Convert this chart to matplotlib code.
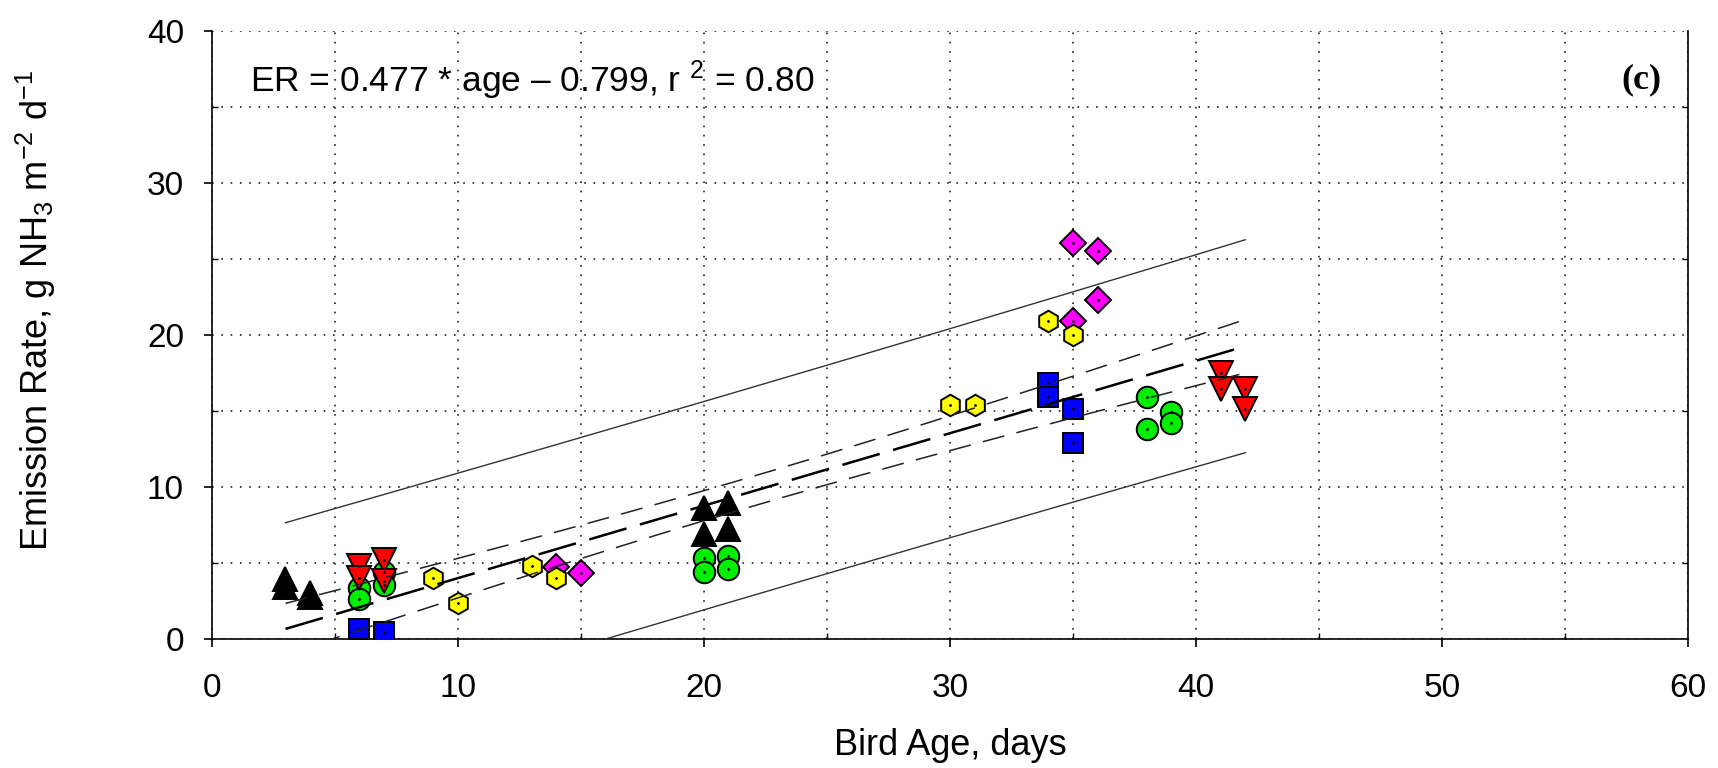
import numpy as np
import matplotlib
matplotlib.use("Agg")
import matplotlib.pyplot as plt
from matplotlib.ticker import MultipleLocator

# ---------------- data ----------------
black_age = [3, 3, 4, 4, 20, 20, 21, 21]
black_er = [3.9, 3.4, 3.0, 2.7, 8.6, 6.85, 8.9, 7.2]

green_age = [6, 6, 7, 7, 20, 20, 21, 21, 38, 38, 39, 39]
green_er = [3.3, 2.6, 4.4, 3.5, 5.3, 4.4, 5.4, 4.55, 15.9, 13.8, 14.9, 14.2]

red_age = [6, 6, 7, 7, 41, 41, 42, 42]
red_er = [4.8, 4.0, 5.2, 3.8, 17.5, 16.4, 16.4, 15.1]

blue_age = [6, 7, 34, 34, 35, 35]
blue_er = [0.6, 0.4, 16.8, 15.9, 15.1, 12.9]

magenta_age = [14, 15, 35, 35, 36, 36]
magenta_er = [4.7, 4.3, 26.0, 20.9, 25.5, 22.3]

yellow_age = [9, 10, 13, 14, 30, 31, 34, 35]
yellow_er = [4.0, 2.35, 4.8, 4.0, 15.4, 15.4, 20.9, 20.0]

slope = 0.477
intercept = -0.799
r2_text = "0.80"
t_crit = 2.013  # 95 %, df = n - 2

x_ticks = [0, 10, 20, 30, 40, 50, 60]
y_ticks = [0, 10, 20, 30, 40]

# ---------------- style ----------------
plt.rcParams["font.family"] = ["Liberation Sans", "DejaVu Sans"]
plt.rcParams["mathtext.fontset"] = "custom"
plt.rcParams["mathtext.rm"] = "Liberation Sans"
plt.rcParams["mathtext.it"] = "Liberation Sans"
plt.rcParams["mathtext.default"] = "regular"
plt.rcParams["lines.scale_dashes"] = False

fig = plt.figure(figsize=(17.18, 7.68), dpi=100)
ax = fig.add_axes([0.1232, 0.1686, 0.9827 - 0.1232, 0.96 - 0.1686])

groups = [
    (magenta_age, magenta_er, "D", "#FF00FF", 13.0),
    (green_age, green_er, "o", "#00EE00", 15.5),
    (red_age, red_er, "v", "#FF0000", 17.0),
    (black_age, black_er, "^", "#000000", 17.0),
    (blue_age, blue_er, "s", "#0000FF", 14.5),
    (yellow_age, yellow_er, "h", "#FFFF00", 15.5),
]
for ages, ers, mk, col, ms in groups:
    ax.plot(ages, ers, linestyle="none", marker=mk, ms=ms, mfc=col,
            mec="black", mew=1.4, zorder=3)
    ax.plot(ages, ers, linestyle="none", marker=".", ms=2, color="black",
            zorder=3.5)

# ---------------- regression & bands ----------------
all_age = np.concatenate([np.asarray(g[0], float) for g in groups])
all_er = np.concatenate([np.asarray(g[1], float) for g in groups])
n = all_age.size
fit = slope * all_age + intercept
s = np.sqrt(np.sum((all_er - fit) ** 2) / (n - 2))
xbar = all_age.mean()
sxx = np.sum((all_age - xbar) ** 2)

xx = np.linspace(all_age.min(), all_age.max(), 300)
yy = slope * xx + intercept
conf = t_crit * s * np.sqrt(1.0 / n + (xx - xbar) ** 2 / sxx)
pred = t_crit * s * np.sqrt(1.0 + 1.0 / n + (xx - xbar) ** 2 / sxx)

ax.plot(xx, yy, color="black", lw=1.8, dashes=(28, 10), zorder=4)
ax.plot(xx, yy + conf, color="#222222", lw=1.1, dashes=(16, 9), zorder=4)
ax.plot(xx, yy - conf, color="#222222", lw=1.1, dashes=(16, 9), zorder=4)
ax.plot(xx, yy + pred, color="#333333", lw=1.0, zorder=4)
ax.plot(xx, yy - pred, color="#333333", lw=1.0, zorder=4)

# ---------------- axes ----------------
ax.set_xlim(0, 60)
ax.set_ylim(0, 40)
ax.set_xticks(x_ticks)
ax.set_yticks(y_ticks)
ax.xaxis.set_minor_locator(MultipleLocator(5))
ax.yaxis.set_minor_locator(MultipleLocator(5))
ax.grid(True, which="both", color="#333333", lw=1.3, linestyle=(0, (1.2, 5.5)),
        zorder=0)
ax.set_axisbelow(True)

ax.spines["top"].set_visible(False)
for sp in ("left", "bottom", "right"):
    ax.spines[sp].set_linewidth(1.2)

ax.tick_params(axis="x", which="major", direction="out", length=6, width=1.2,
               labelsize=24, pad=19)
ax.tick_params(axis="y", which="major", direction="out", length=6, width=1.2,
               labelsize=24, pad=14)
ax.tick_params(which="minor", direction="in", length=4, width=1.0,
               right=True, labelleft=False, labelbottom=False)

ax.set_xlabel("Bird Age, days", fontsize=26)
ax.xaxis.set_label_coords(0.5, -0.148)
ax.set_ylabel(r"Emission Rate, g NH$_3$ m$^{-2}$ d$^{-1}$", fontsize=26)
ax.yaxis.set_label_coords(-0.104, 0.54)

ax.text(1.56, 36.0,
        "ER = 0.477 * age \u2013 0.799, r $^{2}$ = " + r2_text,
        fontsize=25.5, ha="left", va="baseline", zorder=5)
ax.text(58.1, 36.8, "(c)", fontsize=26, fontweight="bold",
        family=["Liberation Serif", "DejaVu Serif"], ha="center",
        va="center", zorder=5)

fig.savefig("out.png", dpi=100)
